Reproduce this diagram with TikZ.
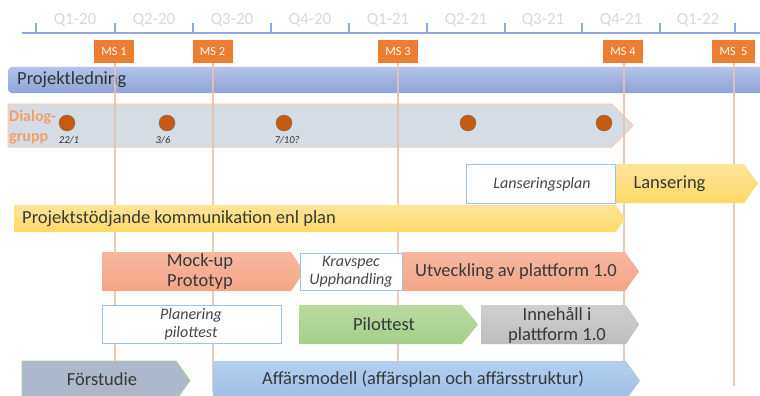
\documentclass[tikz,border=0pt]{standalone}
\usepackage{fontspec}
\setmainfont{Carlito}
\definecolor{axisblue}{HTML}{8FAADC}
\definecolor{msorange}{HTML}{ED7D31}
\definecolor{mslinec}{HTML}{E6C3AE}
\definecolor{boxblue}{HTML}{9DC3E6}
\definecolor{dotorange}{HTML}{C55A11}
\definecolor{dlgfill}{HTML}{D6DCE4}
\definecolor{dlgdraw}{HTML}{F8CBAD}
\definecolor{dlgtext}{HTML}{F0A070}
\definecolor{plTop}{HTML}{B3C2E8}
\definecolor{plBot}{HTML}{8EA4D8}
\definecolor{yTop}{HTML}{FFE49A}
\definecolor{yBot}{HTML}{FFD966}
\definecolor{sTop}{HTML}{F7B7A0}
\definecolor{sBot}{HTML}{F4A585}
\definecolor{gTop}{HTML}{B8DBA1}
\definecolor{gBot}{HTML}{A5CF89}
\definecolor{grTop}{HTML}{CFCFCF}
\definecolor{grBot}{HTML}{BDBDBD}
\definecolor{fsFill}{HTML}{ADB9CA}
\definecolor{fsDraw}{HTML}{A9D18E}
\definecolor{aTop}{HTML}{B5CFEE}
\definecolor{aBot}{HTML}{9DBEE6}
\newcommand\chev[6]{% x1, y1, xtip, y2, depth, style
  \path[#6] (#1,#2) -- ({#3-#5},#2) -- (#3,{(#2+#4)/2}) -- ({#3-#5},#4) -- (#1,#4) -- cycle;}
\begin{document}
\begin{tikzpicture}[x=1pt,y=-1pt,
  txt/.style={text=black!78, font=\fontsize{18.5}{20}\selectfont, inner sep=0pt},
  qlab/.style={text=black!15, font=\fontsize{17}{18}\selectfont, inner sep=0pt},
  msbox/.style={fill=msorange, text=white, font=\fontsize{12.3}{13}\selectfont, inner sep=0pt, minimum width=40pt, minimum height=23pt},
  msline/.style={draw=mslinec, line width=2pt},
  plainbox/.style={draw=boxblue, line width=1pt, fill=white},
  itxt/.style={text=black!72, font=\fontsize{16}{18}\selectfont\itshape, inner sep=0pt, align=center},
  datelab/.style={text=black!80, font=\fontsize{10.5}{11}\selectfont\itshape, inner sep=0pt},
  dot/.style={circle, fill=dotorange, draw=black!55, line width=0.4pt, minimum size=16pt, inner sep=0pt},
]
\useasboundingbox (0,0) rectangle (760,396);
\fill[white] (0,0) rectangle (760,396);

% timeline
\coordinate (axL) at (22,33);
\coordinate (axR) at (760,33);
\draw[axisblue, line width=1.6pt] (axL) -- (axR);
\foreach \x in {36,115,193,271,349,427,505,582,660,735}
  \draw[axisblue, line width=1.6pt] (\x,23) -- (\x,33);
\foreach \x/\q in {75/Q1-20,154/Q2-20,232/Q3-20,310/Q4-20,388/Q1-21,466/Q2-21,543/Q3-21,621/Q4-21,698/Q1-22}
  \node[qlab] at (\x,20) {\q};

% Projektledning bar
\path[top color=plTop, bottom color=plBot, rounded corners=4pt] (8,67) rectangle (772,93);
\node[txt, anchor=west, text=black!80] (pl) at (17,80) {Projektledning};

% Dialog box
\chev{8}{104}{633}{147}{21}{fill=dlgfill, draw=dlgdraw, line width=1pt}
\node[text=dlgtext, font=\fontsize{16}{20}\selectfont\bfseries, align=left, inner sep=0pt, anchor=west] (dlg) at (9,127) {Dialog-\\grupp};

% milestone lines
\foreach \x/\e in {115/392,213/392,398/392,624/392,734/386}
  \draw[msline, opacity=0.85] (\x,62) -- (\x,\e);

% milestones
\node[msbox] (ms1) at (114,51.5) {MS 1};
\node[msbox] (ms2) at (212.5,51.5) {MS 2};
\node[msbox] (ms3) at (398,51.5) {MS 3};
\node[msbox] (ms4) at (623,51.5) {MS 4};
\node[msbox, minimum width=43pt] (ms5) at (733.5,51.5) {MS\ \ 5};

% dots
\node[dot] (d1) at (67,123) {};
\node[dot] (d2) at (167,123) {};
\node[dot] (d3) at (284,123) {};
\node[dot] (d4) at (468,123) {};
\node[dot] (d5) at (604,123) {};
\node[datelab] at (69,140) {22/1};
\node[datelab] at (163,140) {3/6};
\node[datelab] at (287,140) {7/10?};

% Lanseringsplan / Lansering
\chev{615}{164}{758}{203}{14}{top color=yTop, bottom color=yBot}
\draw[plainbox] (466,164) rectangle (615,203);
\node[itxt] (lp) at (542,184.5) {Lanseringsplan};
\node[txt] (lans) at (669.5,184) {Lansering};

% Projektstoedjande
\chev{14}{205}{625}{232}{9}{top color=yTop, bottom color=yBot}
\node[txt, anchor=west] (ps) at (22,219) {Projektstödjande kommunikation enl plan};

% Mock-up / Kravspec / Utveckling
\chev{102}{252}{304}{291}{13}{top color=sTop, bottom color=sBot}
\node[txt, align=center] (mock) at (200,272) {Mock-up\\Prototyp};
\chev{402}{252}{639}{291}{14}{top color=sTop, bottom color=sBot}
\node[txt, anchor=west] (utv) at (415,272) {Utveckling av plattform 1.0};
\draw[plainbox] (300,253) rectangle (402,290);
\node[itxt] (krav) at (351,271.5) {Kravspec\\Upphandling};

% Planering / Pilottest / Innehall
\draw[plainbox] (102,305) rectangle (281,343);
\node[itxt] (plan) at (191,324) {Planering\\pilottest};
\chev{299}{305}{478}{344}{16}{top color=gTop, bottom color=gBot}
\node[txt] (pilot) at (384,324.5) {Pilottest};
\chev{481}{305}{639}{344}{13}{top color=grTop, bottom color=grBot}
\node[txt, align=center] (inn) at (557,325) {Innehåll i\\plattform 1.0};

% Forstudie / Affaersmodell
\chev{22}{361}{190}{400}{14}{fill=fsFill, draw=fsDraw, line width=0.8pt}
\node[txt] (fs) at (102,379) {Förstudie};
\chev{213}{361}{640}{400}{14}{top color=aTop, bottom color=aBot}
\node[txt] (aff) at (423,379) {Affärsmodell (affärsplan och affärsstruktur)};
\end{tikzpicture}
\end{document}
